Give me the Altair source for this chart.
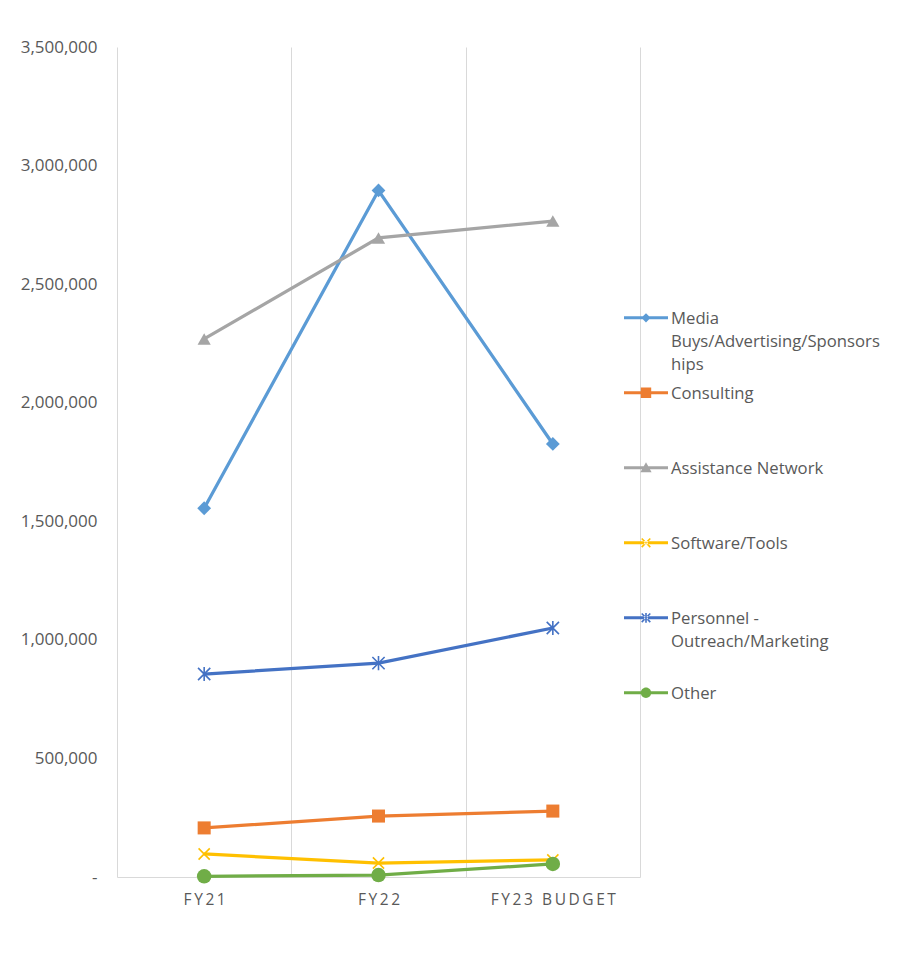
import math
import altair as alt
import pandas as pd

# ---------------- data ----------------
categories = ["FY21", "FY22", "FY23 BUDGET"]
series_names = [
    "Media Buys/Advertising/Sponsorships",
    "Consulting",
    "Assistance Network",
    "Software/Tools",
    "Personnel - Outreach/Marketing",
    "Other",
]
media = [1555000, 2895000, 1826000]
consulting = [207000, 257000, 278000]
assistance = [2269000, 2695000, 2766000]
software = [97000, 59000, 72000]
personnel = [856000, 902000, 1050000]
other = [3000, 8000, 55000]
y_ticks = [0, 500000, 1000000, 1500000, 2000000, 2500000, 3000000, 3500000]

# ---------------- styles ----------------
colors = ["#5B9BD5", "#ED7D31", "#A5A5A5", "#FFC000", "#4472C4", "#70AD47"]
X_PATH = "M-1,-1L1,1M-1,1L1,-1"
STAR_PATH = "M-1,-1L1,1M-1,1L1,-1M0,-1.15L0,1.15"
plot_shapes = ["diamond", "square", "triangle-up", X_PATH, STAR_PATH, "circle"]
plot_sizes = [190, 170, 175, 125, 150, 210]
plot_filled = [True, True, True, False, False, True]

# legend glyphs are drawn in pixels, then converted to symbol units
U = 10.0   # pixels per symbol unit (symbolSize = (2*U)^2)
DY = 6.8   # vertical shift (px) so the glyph sits on the first text line


def p(x, y):
    return f"{x / U:.3f},{(y + DY) / U:.3f}"


def bar(x0, y0, x1, y1, t):
    dx, dy = x1 - x0, y1 - y0
    L = math.hypot(dx, dy)
    px, py = -dy / L * t, dx / L * t
    return (f"M{p(x0+px, y0+py)}L{p(x1+px, y1+py)}"
            f"L{p(x1-px, y1-py)}L{p(x0-px, y0-py)}Z")


def circle(r):
    return (f"M{p(-r, 0)}A{r / U:.3f},{r / U:.3f} 0 1,1 {p(r, 0)}"
            f"A{r / U:.3f},{r / U:.3f} 0 1,1 {p(-r, 0)}Z")


line_part = f"M{p(-22, -1.5)}L{p(22, -1.5)}L{p(22, 1.5)}L{p(-22, 1.5)}Z"
xa, xt = 4.3, 0.8
x_glyph = bar(-xa, -xa, xa, xa, xt) + bar(-xa, xa, xa, -xa, xt)
star_glyph = x_glyph + bar(0, -xa - 0.6, 0, xa + 0.6, xt)
legend_paths = [
    line_part + f"M{p(0, -4.6)}L{p(4.6, 0)}L{p(0, 4.6)}L{p(-4.6, 0)}Z",
    line_part + f"M{p(-5.2, -5.2)}L{p(5.2, -5.2)}L{p(5.2, 5.2)}L{p(-5.2, 5.2)}Z",
    line_part + f"M{p(0, -5.6)}L{p(5.6, 4.4)}L{p(-5.6, 4.4)}Z",
    line_part + x_glyph,
    line_part + star_glyph,
    line_part + circle(5.2),
]

FONT = "Open Sans"
TEXT = "#595959"
GRID = "#D9D9D9"

rows = []
for name, vals in zip(series_names, [media, consulting, assistance, software, personnel, other]):
    for c, v in zip(categories, vals):
        rows.append({"series": name, "category": c, "value": v})
df = pd.DataFrame(rows)

x_enc = alt.X(
    "category:N",
    sort=categories,
    bandPosition=0.5,
    scale=alt.Scale(type="band", domain=categories, paddingInner=0, paddingOuter=0),
    axis=alt.Axis(
        title=None,
        labelAngle=0,
        tickBand="extent",
        grid=True,
        gridColor=GRID,
        gridWidth=1,
        ticks=False,
        domain=True,
        domainColor=GRID,
        domainWidth=1,
        labelFont=FONT,
        labelFontSize=15.5,
        labelColor=TEXT,
        labelPadding=15,
        labelExpr="join(split(datum.label, ''), '\u2009')",
    ),
)
y_enc = alt.Y(
    "value:Q",
    scale=alt.Scale(domain=[0, 3500000], nice=False, zero=True),
    axis=alt.Axis(
        title=None,
        values=y_ticks,
        grid=False,
        domain=False,
        ticks=False,
        tickSize=0,
        labelPadding=20,
        labelFont=FONT,
        labelFontSize=17,
        labelColor=TEXT,
        labelExpr="datum.value == 0 ? '-\u00a0\u00a0\u00a0' : format(datum.value, ',')",
    ),
)

# plot colour scale (same mapping, listed in reverse so it stays separate from the legend's)
color_scale = alt.Scale(domain=series_names[::-1], range=colors[::-1])

base = alt.Chart(df)

lines = base.mark_line(strokeWidth=3.25).encode(
    x=x_enc,
    y=y_enc,
    color=alt.Color("series:N", scale=color_scale, legend=None),
)

point_layers = []
for i, name in enumerate(series_names):
    if plot_filled[i]:
        mk = alt.MarkDef(type="point", shape=plot_shapes[i], size=plot_sizes[i],
                         filled=True, opacity=1)
    else:
        mk = alt.MarkDef(type="point", shape=plot_shapes[i], size=plot_sizes[i],
                         filled=False, opacity=1, strokeWidth=1.6)
    layer = (
        alt.Chart(df, mark=mk)
        .transform_filter(alt.FieldEqualPredicate(field="series", equal=name))
        .encode(
            x=x_enc,
            y=y_enc,
            color=alt.Color("series:N", scale=color_scale, legend=None),
        )
    )
    point_layers.append(layer)

leg = alt.Legend(
    title=None,
    orient="none",
    legendX=519,
    legendY=254,
    padding=0,
    symbolSize=(2 * U) ** 2,
    symbolStrokeWidth=0,
    labelFont=FONT,
    labelFontSize=16.7,
    labelColor=TEXT,
    labelLimit=400,
    labelOffset=15,
    labelBaseline="top",
    gridAlign="all",
    rowPadding=2,
    labelExpr=(
        "datum.label == 'Media Buys/Advertising/Sponsorships' ? ['Media', 'Buys/Advertising/Sponsors', 'hips'] : "
        "datum.label == 'Personnel - Outreach/Marketing' ? ['Personnel -', 'Outreach/Marketing'] : datum.label"
    ),
)

legend_layer = (
    base.transform_filter("false")
    .mark_point(filled=True, opacity=1)
    .encode(
        x=x_enc,
        y=y_enc,
        fill=alt.Fill("series:N", scale=alt.Scale(domain=series_names, range=colors), legend=leg),
        shape=alt.Shape("series:N", scale=alt.Scale(domain=series_names, range=legend_paths), legend=leg),
    )
)

chart = (
    alt.layer(lines, *point_layers, legend_layer)
    .properties(
        width=523,
        height=830,
        autosize=alt.AutoSizeParams(type="none"),
        padding={"left": 117, "top": 47, "right": 270, "bottom": 103},
        background="white",
    )
    .configure(style={"guide-label": {"lineHeight": 23}})
    .configure_view(stroke="transparent")
)

chart.save("out.html", embed_options={"renderer": "svg", "actions": False})
